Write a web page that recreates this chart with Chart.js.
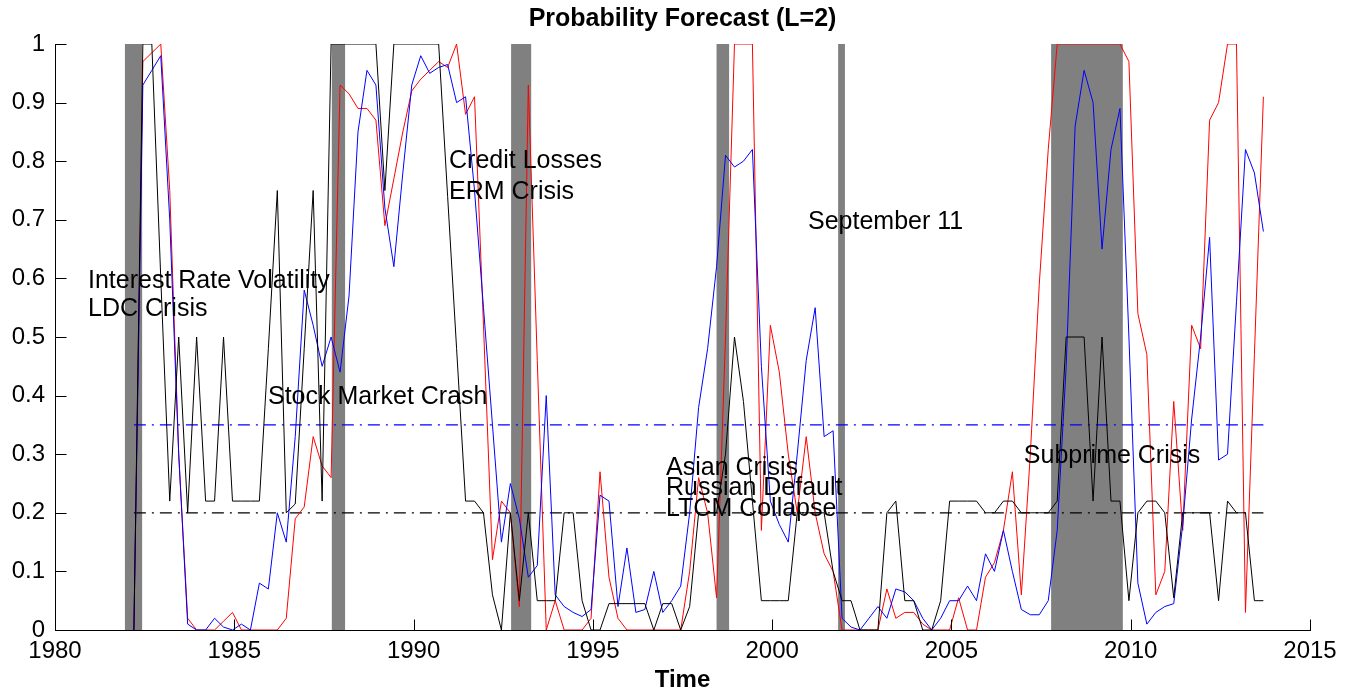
<!DOCTYPE html>
<html><head><meta charset="utf-8">
<script src="https://cdn.jsdelivr.net/npm/chart.js@4.4.1/dist/chart.umd.min.js"></script>
<style>html,body{margin:0;padding:0;background:#fff}#wrap{width:1350px;height:692px;position:relative}</style>
</head><body><div id="wrap"><canvas id="c" width="1350" height="692"></canvas></div>
<script>
// ---- data (quarterly observations) ----
const startYear = 1982.2;
const quarterStep = 0.25;
const blueProb = [0,0.93,0.955,0.98,0.7,0.3,0.01,0,0,0.02,0.005,0,0.01,0,0.08,0.07,0.2,0.15,0.33,0.58,0.52,0.45,0.5,0.44,0.57,0.85,0.955,0.93,0.72,0.62,0.78,0.93,0.98,0.95,0.96,0.965,0.9,0.91,0.75,0.55,0.35,0.15,0.25,0.19,0.09,0.11,0.4,0.06,0.04,0.03,0.023,0.035,0.23,0.22,0.04,0.14,0.03,0.035,0.1,0.03,0.05,0.075,0.2,0.38,0.48,0.62,0.81,0.79,0.8,0.82,0.45,0.22,0.18,0.15,0.3,0.46,0.55,0.33,0.34,0.02,0.005,0,0.02,0.04,0.02,0.07,0.065,0.05,0.02,0,0.02,0.05,0.05,0.075,0.05,0.13,0.1,0.17,0.1,0.035,0.026,0.026,0.05,0.17,0.45,0.86,0.955,0.9,0.65,0.82,0.89,0.5,0.08,0.01,0.03,0.04,0.045,0.18,0.36,0.5,0.67,0.29,0.3,0.56,0.82,0.78,0.68];
const redProb = [0,0.97,0.985,1,0.75,0.3,0.02,0,0,0,0.015,0.03,0,0,0,0,0,0.02,0.19,0.21,0.33,0.28,0.26,0.93,0.915,0.89,0.89,0.87,0.69,0.77,0.85,0.92,0.94,0.955,0.97,0.96,1,0.88,0.91,0.52,0.12,0.22,0.2,0.04,0.93,0.46,0,0.05,0,0,0,0.02,0.27,0.09,0.02,0,0,0,0,0,0,0,0.1,0.26,0.2,0.055,0.5,1,1,1,0.17,0.52,0.44,0.3,0.2,0.33,0.2,0.13,0.1,0,0,0,0,0,0.07,0.02,0.03,0.03,0.01,0,0,0,0.055,0,0,0.09,0.115,0.17,0.27,0.06,0.3,0.59,0.82,1,1,1,1,1,1,1,1,0.97,0.54,0.47,0.06,0.1,0.39,0.17,0.52,0.48,0.87,0.9,1,1,0.03,0.47,0.91];
const blackProb = [0,1,1,0.6,0.22,0.5,0.2,0.5,0.22,0.22,0.5,0.22,0.22,0.22,0.22,0.48,0.75,0.2,0.215,0.48,0.75,0.22,1,1,1,1,1,1,0.75,1,1,1,1,1,1,0.74,0.48,0.22,0.22,0.2,0.06,0,0.2,0.05,0.2,0.05,0.05,0.05,0.2,0.2,0.05,0,0,0.045,0.045,0.045,0.045,0.045,0,0.045,0.045,0,0.04,0.2,0.2,0.2,0.3,0.5,0.39,0.22,0.05,0.05,0.05,0.05,0.2,0.2,0.2,0.2,0.1,0.05,0.05,0,0,0,0.2,0.22,0.05,0.05,0,0,0.05,0.22,0.22,0.22,0.22,0.2,0.2,0.22,0.22,0.2,0.2,0.2,0.2,0.22,0.5,0.5,0.5,0.22,0.5,0.22,0.22,0.05,0.2,0.22,0.22,0.2,0.055,0.2,0.2,0.2,0.2,0.05,0.22,0.2,0.2,0.05,0.05];
const blueThreshold = 0.35;
const blackThreshold = 0.2;
const recessionStarts = [1981.95, 1987.72, 1992.72, 1998.45, 2001.84, 2007.78];
const recessionEnds   = [1982.43, 1988.09, 1993.28, 1998.80, 2002.03, 2009.78];
const xTicks = [1980,1985,1990,1995,2000,2005,2010,2015];
const yTicks = [0,0.1,0.2,0.3,0.4,0.5,0.6,0.7,0.8,0.9,1];
const eventLabels = ['Interest Rate Volatility','LDC Crisis','Stock Market Crash','Credit Losses','ERM Crisis','September 11','Asian Crisis','Russian Default','LTCM Collapse','Subprime Crisis'];
const eventYears  = [1980.92,1980.92,1985.94,1990.99,1990.99,2001.0,1997.04,1997.04,1997.04,2007.02];
const eventLevels = [0.596,0.548,0.398,0.80,0.747,0.696,0.276,0.242,0.206,0.297];

// ---- build ----
const quarters = blueProb.map((_, i) => startYear + quarterStep * i);
const pts = arr => arr.map((v, i) => ({x: quarters[i], y: v}));
const lastQ = quarters[quarters.length - 1];
const FONT = 'Liberation Sans, Arial, Helvetica, sans-serif';
Chart.defaults.color = '#000';
Chart.defaults.font.family = FONT;

const recessionPlugin = {
  id: 'recessions',
  beforeDatasetsDraw(chart) {
    const {ctx, scales: {x, y}} = chart;
    ctx.save();
    ctx.fillStyle = '#808080';
    recessionStarts.forEach((s, i) => {
      const x0 = x.getPixelForValue(s), x1 = x.getPixelForValue(recessionEnds[i]);
      const y0 = y.getPixelForValue(1), y1 = y.getPixelForValue(0);
      ctx.fillRect(x0, y0, x1 - x0, y1 - y0);
    });
    ctx.restore();
  }
};
const annotationPlugin = {
  id: 'events',
  afterDatasetsDraw(chart) {
    const {ctx, scales: {x, y}} = chart;
    ctx.save();
    ctx.fillStyle = '#000';
    ctx.font = '25px ' + FONT;
    ctx.textAlign = 'left';
    ctx.textBaseline = 'middle';
    eventLabels.forEach((t, i) => ctx.fillText(t, x.getPixelForValue(eventYears[i]), y.getPixelForValue(eventLevels[i])));
    ctx.restore();
  }
};
const innerTicksPlugin = {
  id: 'innerTicks',
  afterDraw(chart) {
    const {ctx, scales: {x, y}} = chart;
    ctx.save();
    ctx.strokeStyle = '#000';
    ctx.lineWidth = 1;
    ctx.beginPath();
    const left = Math.round(x.getPixelForValue(1980)) + 0.5;
    yTicks.forEach(v => { const py = Math.round(y.getPixelForValue(v)) + 0.5; ctx.moveTo(left, py); ctx.lineTo(left + 11, py); });
    const bottom = Math.round(y.getPixelForValue(0)) + 0.5;
    xTicks.forEach(v => { const px = Math.round(x.getPixelForValue(v)) + 0.5; ctx.moveTo(px, bottom); ctx.lineTo(px, bottom - 11); });
    ctx.stroke();
    ctx.restore();
  }
};

new Chart(document.getElementById('c'), {
  type: 'line',
  data: {
    datasets: [
      {label: 'Black', data: pts(blackProb), borderColor: '#000000', borderWidth: 1},
      {label: 'Blue', data: pts(blueProb), borderColor: '#0000ff', borderWidth: 1},
      {label: 'Red', data: pts(redProb), borderColor: '#ff0000', borderWidth: 1},
      {label: 'Blue threshold', data: [{x: quarters[0], y: blueThreshold}, {x: lastQ, y: blueThreshold}], borderColor: '#0000ff', borderWidth: 1.3, borderDash: [12, 6, 2, 6]},
      {label: 'Black threshold', data: [{x: quarters[0], y: blackThreshold}, {x: lastQ, y: blackThreshold}], borderColor: '#000000', borderWidth: 1.3, borderDash: [12, 6, 2, 6]}
    ]
  },
  options: {
    responsive: false,
    animation: false,
    devicePixelRatio: 1,
    elements: {point: {radius: 0}, line: {tension: 0, fill: false}},
    layout: {padding: {left: 0, right: 40, top: 0, bottom: 0}},
    plugins: {
      legend: {display: false},
      tooltip: {enabled: false},
      title: {display: true, text: 'Probability Forecast (L=2)', fullSize: false,
        font: {size: 25, weight: 'bold', family: FONT, lineHeight: 1.2}, padding: {top: 4, bottom: 10}, color: '#000'}
    },
    scales: {
      x: {
        type: 'linear', min: 1980, max: 2015,
        afterBuildTicks: s => { s.ticks = xTicks.map(v => ({value: v})); },
        afterFit: s => { s.height = 62; },
        ticks: {font: {size: 24, family: FONT}, padding: 7, maxRotation: 0, autoSkip: false, callback: v => String(v)},
        grid: {display: true, drawOnChartArea: false, drawTicks: false},
        border: {display: true, color: '#000', width: 1},
        title: {display: true, text: 'Time', font: {size: 24, weight: 'bold', family: FONT, lineHeight: 1}, padding: {top: 0, bottom: 0}}
      },
      y: {
        type: 'linear', min: 0, max: 1,
        afterBuildTicks: s => { s.ticks = yTicks.map(v => ({value: v})); },
        afterFit: s => { s.width = 55; },
        ticks: {font: {size: 24, family: FONT}, padding: 10, autoSkip: false, callback: v => String(Math.round(v * 10) / 10)},
        grid: {display: true, drawOnChartArea: false, drawTicks: false},
        border: {display: true, color: '#000', width: 1}
      }
    }
  },
  plugins: [recessionPlugin, annotationPlugin, innerTicksPlugin]
});
</script>
</body></html>
